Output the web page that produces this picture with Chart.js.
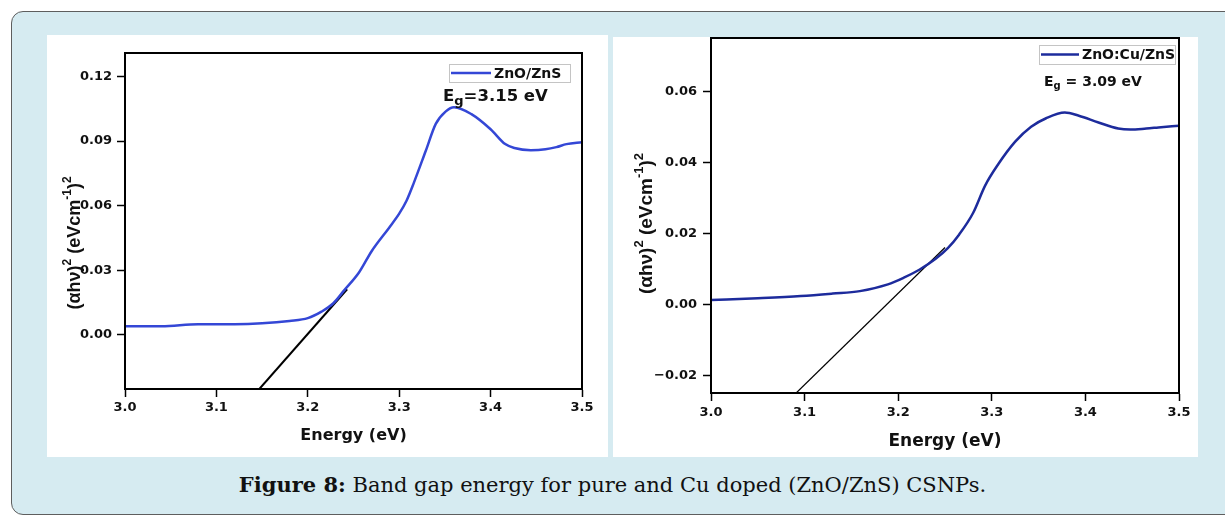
<!DOCTYPE html>
<html>
<head>
<meta charset="utf-8">
<script src="https://cdn.jsdelivr.net/npm/chart.js@4.4.1/dist/chart.umd.min.js"></script>
<style>
    html, body { margin: 0; padding: 0; width: 1225px; height: 516px; overflow: hidden; background: #fff; }
    #frame { position: absolute; left: 11px; top: 11px; width: 1240px; height: 502px; background: #d6ebf1; border: 1.5px solid #5e5e5e; border-radius: 12px; }
    .panel { position: absolute; background: #fff; }
    #panelLeft { left: 47px; top: 35px; width: 561px; height: 422px; }
    #panelRight { left: 613px; top: 37px; width: 585px; height: 420px; }
    #caption { position: absolute; left: 0; top: 472px; width: 1225px; line-height: 26px; text-align: center; font-family: "DejaVu Serif", serif; font-size: 21px; color: #111; }
</style>
</head>
<body>
<div id="frame"></div>
<div class="panel" id="panelLeft"><canvas id="leftChart" width="561" height="422"></canvas></div>
<div class="panel" id="panelRight"><canvas id="rightChart" width="585" height="420"></canvas></div>
<div id="caption"><b>Figure 8:</b> Band gap energy for pure and Cu doped (ZnO/ZnS) CSNPs.</div>

<script>
// Values
const xTicks = [3.0, 3.1, 3.2, 3.3, 3.4, 3.5];

// pure ZnO/ZnS
const energyLeft = [3.00, 3.04, 3.08, 3.12, 3.15, 3.18, 3.20, 3.215, 3.228, 3.24, 3.256, 3.27, 3.289, 3.30, 3.308,
    3.316, 3.329, 3.34, 3.351, 3.36, 3.379, 3.40, 3.416, 3.426, 3.444, 3.46, 3.472, 3.483, 3.50];
const ahvLeft = [0.004, 0.004, 0.005, 0.005, 0.0054, 0.0065, 0.0078, 0.0108, 0.0147, 0.0208, 0.029, 0.039, 0.0498, 0.0563, 0.0623,
    0.0706, 0.0854, 0.098, 0.1038, 0.1057, 0.1025, 0.0955, 0.0886, 0.0868, 0.0858, 0.0862, 0.0872, 0.0886, 0.0895];
const tangentLeftE = [3.147, 3.243];
const tangentLeftV = [-0.0251, 0.0212];
const yTicksLeft = [0, 0.03, 0.06, 0.09, 0.12];

// Cu doped ZnO:Cu/ZnS
const energyRight = [3.00, 3.05, 3.096, 3.13, 3.159, 3.189, 3.206, 3.223, 3.24, 3.253, 3.265, 3.28, 3.293, 3.307, 3.325,
    3.342, 3.358, 3.378, 3.393, 3.414, 3.435, 3.448, 3.465, 3.478, 3.50];
const ahvRight = [0.0012, 0.0017, 0.0023, 0.003, 0.0037, 0.0056, 0.0075, 0.0098, 0.0128, 0.0158, 0.0196, 0.0257, 0.0335, 0.0395, 0.0458,
    0.05, 0.0524, 0.054, 0.0531, 0.0512, 0.0495, 0.0492, 0.0495, 0.0498, 0.0503];
const tangentRightE = [3.091, 3.25];
const tangentRightV = [-0.025, 0.016];
const yTicksRight = [-0.02, 0, 0.02, 0.04, 0.06];

// y title pieces: [text, superscript?]
const yTitleParts = [['(αhν)', false], ['2', true], [' (eVcm', false], ['-1', true], [')', false], ['2', true]];
const xTitle = 'Energy (eV)';

function toPoints(xs, ys) {
    return xs.map((x, i) => ({ x: x, y: ys[i] }));
}

// frame around the plot, legend box, band gap note and y title with superscripts
const boxPlugin = {
    id: 'boxAndNotes',
    afterDatasetsDraw(chart, args, opts) {
        const ctx = chart.ctx;
        const a = chart.chartArea;
        const ds = chart.data.datasets[0];
        ctx.save();
        ctx.strokeStyle = '#000';
        ctx.lineWidth = 2;
        ctx.strokeRect(a.left, a.top, a.right - a.left, a.bottom - a.top);

        // legend
        const bx = a.right - opts.legendRight - opts.legendW;
        const by = a.top + opts.legendTop;
        ctx.fillStyle = '#fff';
        ctx.fillRect(bx, by, opts.legendW, opts.legendH);
        ctx.strokeStyle = '#c4c4c4';
        ctx.lineWidth = 1;
        ctx.strokeRect(bx + 0.5, by + 0.5, opts.legendW, opts.legendH);
        ctx.strokeStyle = ds.borderColor;
        ctx.lineWidth = ds.borderWidth;
        ctx.beginPath();
        ctx.moveTo(bx + 2, by + opts.legendH / 2);
        ctx.lineTo(bx + 2 + opts.sampleW, by + opts.legendH / 2);
        ctx.stroke();
        ctx.fillStyle = '#111';
        ctx.font = 'bold ' + opts.legendFont + 'px "DejaVu Sans"';
        ctx.textBaseline = 'middle';
        ctx.textAlign = 'left';
        ctx.fillText(ds.label, bx + opts.sampleW + 5, by + opts.legendH / 2 + 1);

        // E_g note
        let nx = a.right - opts.noteRight;
        const ny = a.top + opts.noteTop;
        ctx.font = 'bold ' + opts.noteFont + 'px "DejaVu Sans"';
        ctx.fillText(opts.note[0], nx, ny);
        nx += ctx.measureText(opts.note[0]).width;
        ctx.font = 'bold ' + opts.subFont + 'px "DejaVu Sans"';
        ctx.fillText(opts.note[1], nx, ny + opts.subDrop);
        nx += ctx.measureText(opts.note[1]).width;
        ctx.font = 'bold ' + opts.noteFont + 'px "DejaVu Sans"';
        ctx.fillText(opts.note[2], nx, ny);

        // y axis title, rotated
        const fontFor = sup => 'bold ' + (sup ? opts.titleSup : opts.titleSize) + 'px "Liberation Sans"';
        let total = 0;
        yTitleParts.forEach(p => { ctx.font = fontFor(p[1]); total += ctx.measureText(p[0]).width; });
        ctx.translate(opts.titleX, (a.top + a.bottom) / 2 + opts.titleShift);
        ctx.rotate(-Math.PI / 2);
        let tx = -total / 2;
        yTitleParts.forEach(p => {
            ctx.font = fontFor(p[1]);
            ctx.fillText(p[0], tx, p[1] ? -opts.titleSize * 0.38 : 0);
            tx += ctx.measureText(p[0]).width;
        });
        ctx.restore();
    }
};

function makeChart(id, s) {
    const tickFont = { family: 'DejaVu Sans', weight: 'bold', size: 13 };
    return new Chart(document.getElementById(id), {
        type: 'scatter',
        data: {
            datasets: [
                {
                    label: s.label,
                    data: toPoints(s.energy, s.values),
                    showLine: true,
                    borderColor: s.color,
                    borderWidth: 2.5,
                    pointRadius: 0,
                    cubicInterpolationMode: 'monotone'
                },
                {
                    label: 'tangent',
                    data: toPoints(s.tanE, s.tanV),
                    showLine: true,
                    borderColor: '#000',
                    borderWidth: s.tanWidth,
                    pointRadius: 0
                }
            ]
        },
        options: {
            responsive: false,
            animation: false,
            devicePixelRatio: 1,
            layout: { padding: s.padding },
            plugins: {
                legend: { display: false },
                tooltip: { enabled: false },
                boxAndNotes: s.notes
            },
            scales: {
                x: {
                    type: 'linear',
                    min: 3.0,
                    max: 3.5,
                    afterBuildTicks: sc => { sc.ticks = xTicks.map(v => ({ value: v })); },
                    afterFit: sc => { sc.height = s.xHeight; sc.paddingLeft = 0; sc.paddingRight = 0; },
                    grid: { drawOnChartArea: false, drawTicks: true, tickLength: 8, tickColor: '#000', tickWidth: 1.5 },
                    border: { display: true, color: '#000', width: 2 },
                    ticks: { autoSkip: false, maxRotation: 0, padding: s.xTickPad, color: '#111', font: tickFont,
                        callback: v => v.toFixed(1) },
                    title: { display: true, text: xTitle, color: '#111',
                        font: { family: 'DejaVu Sans', weight: 'bold', size: s.xTitleSize },
                        padding: { top: 0, bottom: s.xTitlePad } }
                },
                y: {
                    type: 'linear',
                    min: s.yMin,
                    max: s.yMax,
                    afterBuildTicks: sc => { sc.ticks = s.yTicks.map(v => ({ value: v })); },
                    afterFit: sc => { sc.width = s.yWidth; sc.paddingTop = 0; sc.paddingBottom = 0; },
                    grid: { drawOnChartArea: false, drawTicks: true, tickLength: 8, tickColor: '#000', tickWidth: 1.5 },
                    border: { display: true, color: '#000', width: 2 },
                    ticks: { autoSkip: false, padding: s.yTickPad, color: '#111', font: tickFont,
                        callback: v => (v < 0 ? '\u2212' + Math.abs(v).toFixed(2) : v.toFixed(2)) },
                    title: { display: false }
                }
            }
        },
        plugins: [boxPlugin]
    });
}

makeChart('leftChart', {
    label: 'ZnO/ZnS',
    energy: energyLeft, values: ahvLeft,
    tanE: tangentLeftE, tanV: tangentLeftV, tanWidth: 2,
    color: '#3447d6',
    yMin: -0.0251, yMax: 0.1309, yTicks: yTicksLeft,
    padding: { left: 0, right: 26, top: 18, bottom: 0 },
    yWidth: 78, xHeight: 68, xTickPad: 3, yTickPad: 5,
    xTitleSize: 16, xTitlePad: 12,
    notes: { legendRight: 12, legendW: 121, legendTop: 11, legendH: 18, sampleW: 40, legendFont: 14,
        note: ['E', 'g', '=3.15 eV'], noteRight: 139, noteTop: 44, noteFont: 16.5, subFont: 13, subDrop: 5,
        titleX: 28, titleShift: 22, titleSize: 18, titleSup: 12 }
});

makeChart('rightChart', {
    label: 'ZnO:Cu/ZnS',
    energy: energyRight, values: ahvRight,
    tanE: tangentRightE, tanV: tangentRightV, tanWidth: 1.2,
    color: '#1d2b9c',
    yMin: -0.025, yMax: 0.075, yTicks: yTicksRight,
    padding: { left: 0, right: 19, top: 1, bottom: 0 },
    yWidth: 98, xHeight: 64, xTickPad: 4, yTickPad: 6,
    xTitleSize: 17, xTitlePad: 5,
    notes: { legendRight: 4, legendW: 136, legendTop: 7, legendH: 19, sampleW: 38, legendFont: 14,
        note: ['E', 'g', ' = 3.09 eV'], noteRight: 135, noteTop: 44, noteFont: 14, subFont: 10, subDrop: 4,
        titleX: 34, titleShift: 8, titleSize: 19, titleSup: 13 }
});
</script>
</body>
</html>
